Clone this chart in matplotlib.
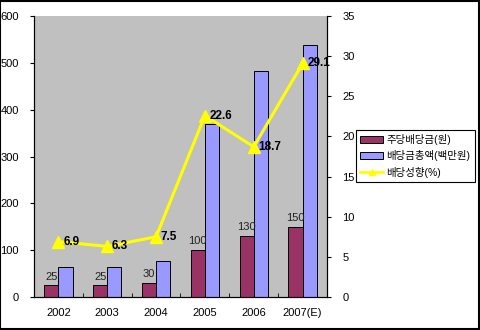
import numpy as np
import matplotlib.pyplot as plt
from matplotlib.patches import Patch, Rectangle
from matplotlib.lines import Line2D

plt.rcParams['font.family'] = ['Liberation Sans', 'Noto Sans CJK KR', 'DejaVu Sans']

years = ['2002', '2003', '2004', '2005', '2006', '2007(E)']
dps = [25, 25, 30, 100, 130, 150]            # 주당배당금(원)
total_div = [65, 65, 77, 370, 482, 538]      # 배당금총액(백만원)
payout = [6.9, 6.3, 7.5, 22.6, 18.7, 29.1]   # 배당성향(%)

names = ['주당배당금(원)', '배당금총액(백만원)', '배당성향(%)']

fig = plt.figure(figsize=(4.8, 3.3), dpi=100)
fig.patches.append(Rectangle((0.001, 0.002), 0.997, 0.995, transform=fig.transFigure,
                             fill=False, edgecolor='black', linewidth=1.5))

ax = fig.add_axes([0.0708, 0.1, 0.6104, 0.8515])
ax.set_facecolor('#C0C0C0')
x = np.arange(len(years))
w = 0.29

ax.bar(x - w / 2, dps, w, color='#993366', edgecolor='black', linewidth=0.7)
ax.bar(x + w / 2, total_div, w, color='#9999FF', edgecolor='black', linewidth=0.7)
for xi, v in zip(x, dps):
    ax.text(xi - w / 2, v + 8, str(v), ha='center', va='bottom', fontsize=8, color='#222222')

ax.set_xlim(-0.5, len(years) - 0.5)
ax.set_ylim(0, 600)
ax.set_yticks(range(0, 601, 100))
ax.set_xticks(x)
ax.set_xticklabels(years)
ax.set_xticks(np.arange(-0.5, len(years)), minor=True)
ax.tick_params(axis='x', which='major', length=0, pad=8, labelsize=8)
ax.tick_params(axis='x', which='minor', length=3, direction='in')
ax.tick_params(axis='y', length=3, labelsize=8, pad=8)
for s in ['top']:
    ax.spines[s].set_visible(False)

ax2 = ax.twinx()
ax2.plot(x, payout, color='#FFFF00', linewidth=2.2, marker='^', markersize=9)
for xi, v in zip(x, payout):
    ax2.text(xi + 0.1, v, str(v), ha='left', va='center', fontsize=8.5,
             fontweight='bold', color='black')
ax2.set_ylim(0, 35)
ax2.set_yticks(range(0, 36, 5))
ax2.tick_params(axis='y', length=3, labelsize=8, pad=8)
ax2.spines['top'].set_visible(False)

handles = [Patch(facecolor='#993366', edgecolor='black', linewidth=0.7),
           Patch(facecolor='#9999FF', edgecolor='black', linewidth=0.7),
           Line2D([], [], color='#FFFF00', linewidth=2, marker='^', markersize=5)]
leg = fig.legend(handles, names, loc='upper left', bbox_to_anchor=(0.742, 0.606),
                 fontsize=7.5, frameon=True, fancybox=False, framealpha=1,
                 edgecolor='black', handlelength=2.2, handletextpad=0.3,
                 borderpad=0.4, labelspacing=0.5, borderaxespad=0)
leg.get_frame().set_linewidth(0.8)

fig.savefig('out.png', dpi=100)
